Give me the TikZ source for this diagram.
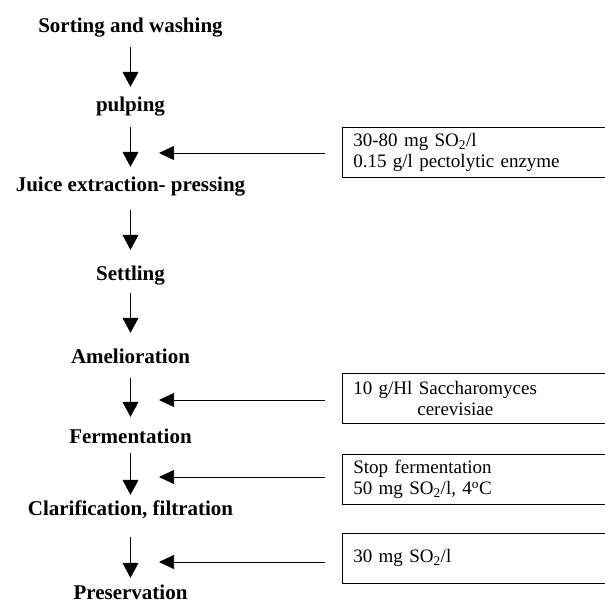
\documentclass[tikz,border=0pt]{standalone}
\usepackage{fontspec}
\setmainfont{Liberation Serif}
\usetikzlibrary{arrows.meta}
\tikzset{
  stage/.style={inner sep=0pt, anchor=base, text height=15pt, text depth=5pt,
    font=\bfseries\fontsize{21}{25}\selectfont},
  infobox/.style={draw, line width=0.7pt, anchor=north west, minimum width=290pt,
    minimum height=50pt, inner xsep=11pt, inner ysep=0pt, text width=268pt, align=left,
    font=\fontsize{19}{21}\selectfont},
  down/.style={line width=0.7pt, -{Triangle[length=15pt,width=16pt]}},
  feed/.style={line width=0.7pt, -{Triangle[length=15pt,width=14pt]}}
}
\begin{document}
\begin{tikzpicture}[x=1pt,y=-1pt]
\useasboundingbox (0,0) rectangle (605,604);
% stages
\node[stage] (s1) at (130.5,33) {Sorting and washing};
\node[stage] (s2) at (130.5,112) {pulping};
\node[stage] (s3) at (130.5,192) {Juice extraction- pressing};
\node[stage] (s4) at (130.5,280) {Settling};
\node[stage] (s5) at (130.5,363) {Amelioration};
\node[stage] (s6) at (130.5,443) {Fermentation};
\node[stage] (s7) at (130.5,515) {Clarification, filtration};
\node[stage] (s8) at (130.5,599) {Preservation};
% vertical arrows
\draw[down, shorten <=9pt, shorten >=10pt] (s1.south) -- (s2.north);
\draw[down, shorten <=10pt, shorten >=10pt] (s2.south) -- (s3.north);
\draw[down, shorten <=13pt, shorten >=15pt] (s3.south) -- (s4.north);
\draw[down, shorten <=8pt, shorten >=15pt] (s4.south) -- (s5.north);
\draw[down, shorten <=10pt, shorten >=11pt] (s5.south) -- (s6.north);
\draw[down, shorten <=5pt, shorten >=5pt] (s6.south) -- (s7.north);
\draw[down, shorten <=17pt, shorten >=6pt] (s7.south) -- (s8.north);
% boxes
\node[infobox] (b1) at (342,127) {30-80 mg SO\textsubscript{2}/l\\0.15 g/l pectolytic enzyme};
\node[infobox] (b2) at (342,373) {10 g/Hl Saccharomyces\\\hspace*{64pt}cerevisiae};
\node[infobox] (b3) at (342,454) {Stop fermentation\\50 mg SO\textsubscript{2}/l, 4\textsuperscript{o}C};
\node[infobox] (b4) at (342,533) {30 mg SO\textsubscript{2}/l};
% feed arrows
\coordinate (t1) at (159,153);
\coordinate (t2) at (159,400);
\coordinate (t3) at (159,477);
\coordinate (t4) at (159,562);
\draw[feed] ([xshift=-17pt]b1.west |- t1) -- (t1);
\draw[feed] ([xshift=-17pt]b2.west |- t2) -- (t2);
\draw[feed] ([xshift=-17pt]b3.west |- t3) -- (t3);
\draw[feed] ([xshift=-17pt]b4.west |- t4) -- (t4);
\end{tikzpicture}
\end{document}
